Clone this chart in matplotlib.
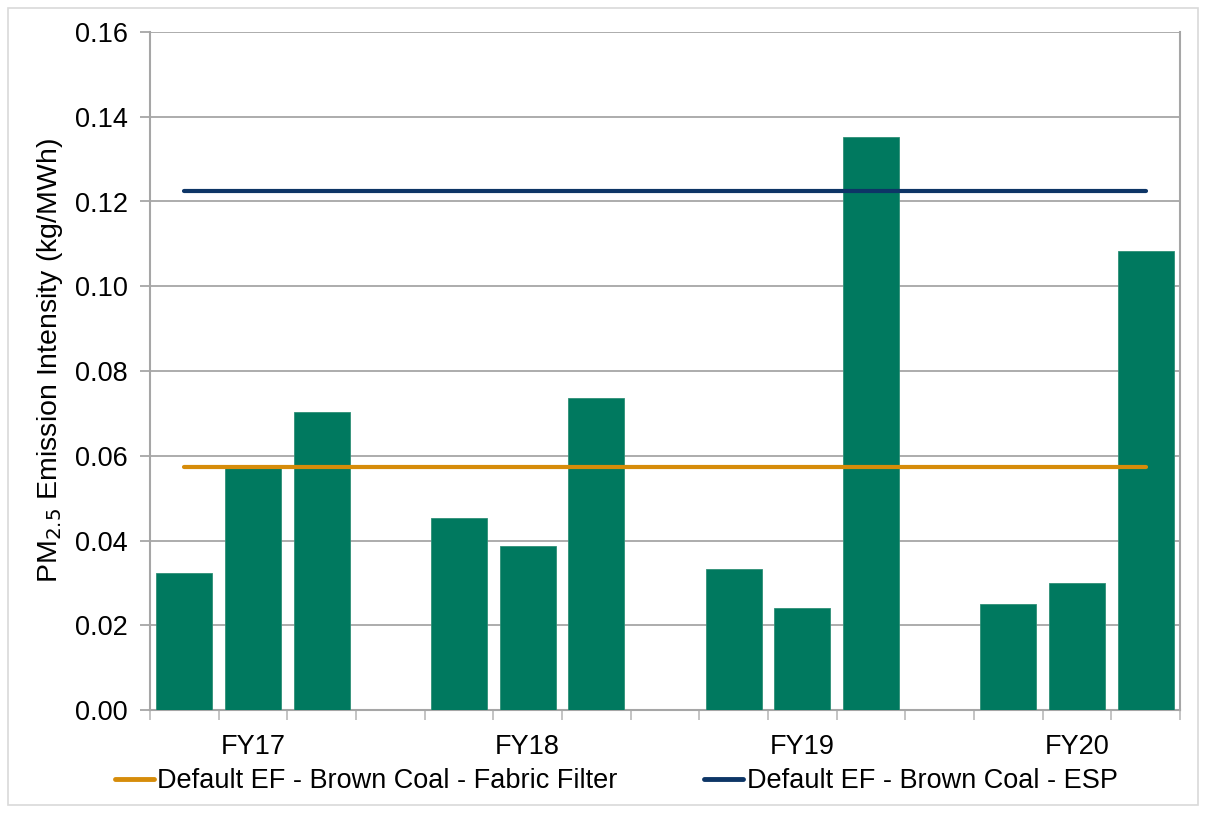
import matplotlib
matplotlib.use("Agg")
import matplotlib.pyplot as plt
from matplotlib.patches import Rectangle
from matplotlib.lines import Line2D
import numpy as np

plt.rcParams['font.family'] = ['Liberation Sans', 'DejaVu Sans']

# Financial years and the three unit intensities reported in each
years = ["FY17", "FY18", "FY19", "FY20"]
fy17 = [0.0323, 0.0578, 0.0703]
fy18 = [0.0453, 0.0387, 0.0736]
fy19 = [0.0333, 0.0241, 0.1353]
fy20 = [0.0250, 0.0300, 0.1084]

# Default emission factors shown as reference lines
ef_fabric_filter = 0.0573
ef_esp = 0.1225

labels_lines = ["Default EF - Brown Coal - Fabric Filter",
                "Default EF - Brown Coal - ESP"]

yticks = [0.00, 0.02, 0.04, 0.06, 0.08, 0.10, 0.12, 0.14, 0.16]

bar_color = "#00795F"
orange = "#D68C0A"
navy = "#0D3566"
grid_gray = "#A6A6A6"

fig = plt.figure(figsize=(12.06, 8.13), dpi=100)
ax = fig.add_axes([150/1206, 1 - 710/813, 1030/1206, (710-32)/813])

groups = [fy17, fy18, fy19, fy20]
slot = 4  # three bars plus one empty slot per year
n_slots = slot * len(groups) - 1
for g, vals in enumerate(groups):
    xs = [g * slot + i for i in range(len(vals))]
    ax.bar(xs, vals, width=0.82, color=bar_color, edgecolor="#2E8F77",
           linewidth=0.6, zorder=3)

x_line = [0, n_slots - 1]
ax.plot(x_line, [ef_fabric_filter] * 2, color=orange, lw=3,
        solid_capstyle="round", zorder=4)
ax.plot(x_line, [ef_esp] * 2, color=navy, lw=3,
        solid_capstyle="round", zorder=4)

ax.set_xlim(-0.5, n_slots - 0.5)
ax.set_ylim(0, 0.16)
ax.set_yticks(yticks)
ax.set_yticklabels([f"{v:.2f}" for v in yticks], fontsize=19.5)
ax.yaxis.grid(True, color=grid_gray, lw=1.3, zorder=0)
ax.set_axisbelow(True)

ax.set_xticks([g * slot + 1 for g in range(len(years))])
ax.set_xticklabels(years, fontsize=19.5)
ax.set_xticks(np.arange(-0.5, n_slots, 1.0), minor=True)
ax.tick_params(axis="x", which="major", length=0, pad=17)
ax.tick_params(axis="x", which="minor", length=7, color="#BFBFBF", width=1.3)
ax.tick_params(axis="y", length=7, color=grid_gray, width=1.3, pad=9)

for side in ["left", "right", "bottom"]:
    ax.spines[side].set_color(grid_gray)
    ax.spines[side].set_linewidth(1.5)
ax.spines["top"].set_visible(False)

ax.set_ylabel("PM$_{2.5}$ Emission Intensity (kg/MWh)", fontsize=20.5)
ax.yaxis.set_label_coords(-0.083, 0.516)

handles = [Line2D([], [], color=orange, lw=3.5, solid_capstyle="round"),
           Line2D([], [], color=navy, lw=3.5, solid_capstyle="round")]
fig.legend(handles, labels_lines, ncol=2, frameon=False, fontsize=19.5,
           loc="center", bbox_to_anchor=(616/1206, 1 - 781/813),
           handlelength=1.45, handletextpad=0.12, columnspacing=3.2,
           borderpad=0, borderaxespad=0)

fig.add_artist(Rectangle((8/1206, 8/813), 1190/1206, 797/813,
                         transform=fig.transFigure, fill=False,
                         edgecolor="#D9D9D9", lw=1.2))

fig.savefig("out.png", dpi=100, facecolor="white")
